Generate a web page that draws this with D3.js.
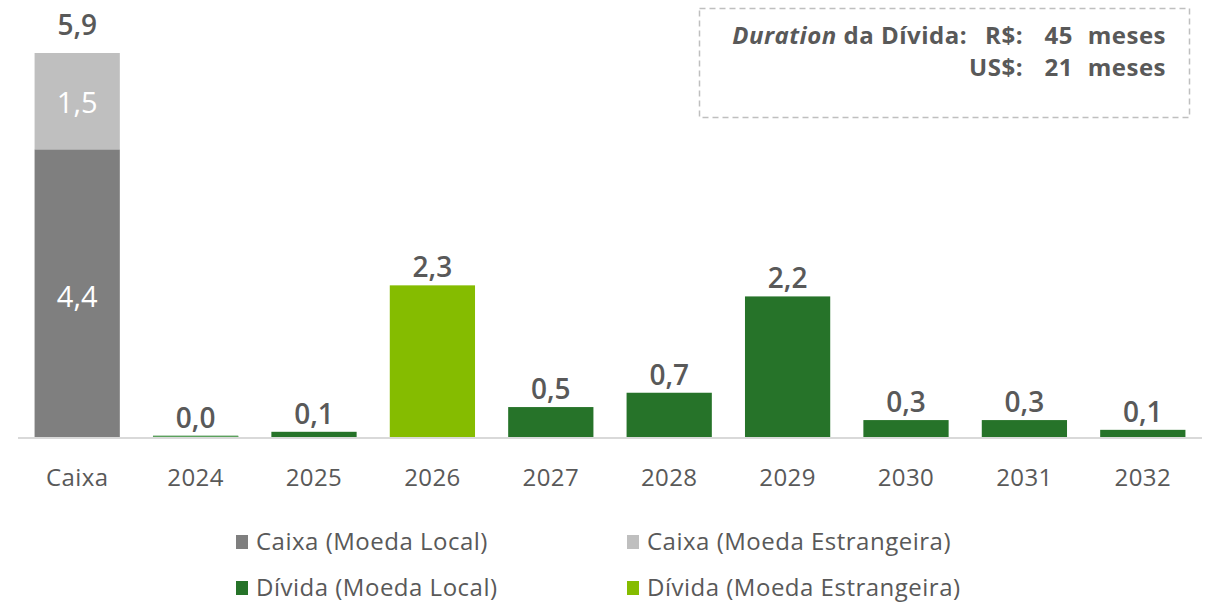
<!DOCTYPE html>
<html>
<head>
<meta charset="utf-8">
<script src="https://cdn.jsdelivr.net/npm/d3@7"></script>
<style>
  body { margin: 0; background: #fff; }
  svg text { font-family: "Open Sans", "Noto Sans", sans-serif; }
</style>
</head>
<body>
<div id="chart"></div>
<script>
  'use strict';

  // categories and series (R$ bi)
  var categories = ['Caixa', '2024', '2025', '2026', '2027', '2028', '2029', '2030', '2031', '2032'];
  var caixaLocal = [4.42, 0, 0, 0, 0, 0, 0, 0, 0, 0];
  var caixaEstrangeira = [1.48, 0, 0, 0, 0, 0, 0, 0, 0, 0];
  var dividaLocal = [0, 0.02, 0.08, 0, 0.46, 0.68, 2.16, 0.26, 0.26, 0.11];
  var dividaEstrangeira = [0, 0, 0, 2.33, 0, 0, 0, 0, 0, 0];

  var seriesNames = ['Caixa (Moeda Local)', 'Caixa (Moeda Estrangeira)', 'Dívida (Moeda Local)', 'Dívida (Moeda Estrangeira)'];
  var seriesColors = ['#7f7f7f', '#bfbfbf', '#267329', '#85bc00'];

  var width = 1206, height = 605;
  var baseY = 437;
  var textColor = '#595959';

  var svg = d3.select('#chart').append('svg')
    .attr('width', width)
    .attr('height', height);

  var x = d3.scaleBand()
    .domain(categories)
    .range([18, 1202])
    .paddingInner(0.28)
    .paddingOuter(0.14);

  var y = d3.scaleLinear()
    .domain([0, 5.9])
    .range([baseY, 53]);

  // build stacked rows
  var rows = categories.map(function(c, i) {
    return { cat: c, s0: caixaLocal[i], s1: caixaEstrangeira[i], s2: dividaLocal[i], s3: dividaEstrangeira[i] };
  });
  var stack = d3.stack().keys(['s0', 's1', 's2', 's3']);
  var layers = stack(rows);

  svg.append('g').selectAll('g')
    .data(layers)
    .enter().append('g')
      .attr('fill', function(d, i) { return seriesColors[i]; })
    .selectAll('rect')
    .data(function(d) { return d; })
    .enter().append('rect')
      .attr('x', function(d) { return x(d.data.cat); })
      .attr('width', x.bandwidth())
      .attr('y', function(d) { return y(d[1]); })
      .attr('height', function(d) { return Math.max(0, y(d[0]) - y(d[1])); });

  // the 2024 sliver
  svg.append('line')
    .attr('x1', x('2024')).attr('x2', x('2024') + x.bandwidth())
    .attr('y1', baseY - 0.5).attr('y2', baseY - 0.5)
    .attr('stroke', '#5aa25c').attr('stroke-width', 1);

  // axis line
  svg.append('line')
    .attr('x1', 18).attr('x2', 1202)
    .attr('y1', baseY + 1).attr('y2', baseY + 1)
    .attr('stroke', '#d9d9d9').attr('stroke-width', 2);

  var fmt = function(v) { return v.toFixed(1).replace('.', ','); };

  // labels inside caixa bar
  svg.append('text')
    .attr('x', x('Caixa') + x.bandwidth() / 2)
    .attr('y', (y(0) + y(caixaLocal[0])) / 2 + 4)
    .attr('dy', '0.35em')
    .attr('text-anchor', 'middle')
    .attr('font-size', '29px')
    .attr('fill', '#fff')
    .text(fmt(caixaLocal[0]));
  svg.append('text')
    .attr('x', x('Caixa') + x.bandwidth() / 2)
    .attr('y', (y(caixaLocal[0]) + y(caixaLocal[0] + caixaEstrangeira[0])) / 2 + 2)
    .attr('dy', '0.35em')
    .attr('text-anchor', 'middle')
    .attr('font-size', '29px')
    .attr('fill', '#fff')
    .text(fmt(caixaEstrangeira[0]));

  // totals on top (the stacked caixa total sits a bit higher)
  svg.append('g').selectAll('text')
    .data(rows)
    .enter().append('text')
      .attr('x', function(d) { return x(d.cat) + x.bandwidth() / 2; })
      .attr('y', function(d) { return y(d.s0 + d.s1 + d.s2 + d.s3) - (d.s1 > 0 ? 18 : 8); })
      .attr('text-anchor', 'middle')
      .attr('font-size', '28px')
      .attr('font-weight', 600)
      .attr('fill', textColor)
      .text(function(d) { return fmt(d.s0 + d.s1 + d.s2 + d.s3); });

  // category labels
  svg.append('g').selectAll('text')
    .data(categories)
    .enter().append('text')
      .attr('x', function(d) { return x(d) + x.bandwidth() / 2; })
      .attr('y', 486)
      .attr('text-anchor', 'middle')
      .attr('font-size', '24px')
      .attr('letter-spacing', '0.4px')
      .attr('fill', textColor)
      .text(function(d) { return d; });

  // legend
  var legendPos = [[236, 542], [627, 542], [236, 588], [627, 588]];
  var legend = svg.append('g').selectAll('g')
    .data(seriesNames)
    .enter().append('g')
      .attr('transform', function(d, i) { return 'translate(' + legendPos[i][0] + ',' + legendPos[i][1] + ')'; });
  legend.append('rect')
    .attr('x', 0).attr('y', -7)
    .attr('width', 12).attr('height', 14)
    .attr('fill', function(d, i) { return seriesColors[i]; });
  legend.append('text')
    .attr('x', 20)
    .attr('dy', '0.35em')
    .attr('font-size', '24px')
    .attr('letter-spacing', '0.5px')
    .attr('fill', textColor)
    .text(function(d) { return d; });

  // duration box
  svg.append('rect')
    .attr('x', 699.5).attr('y', 8.5)
    .attr('width', 490).attr('height', 109)
    .attr('fill', 'none')
    .attr('stroke', '#bfbfbf')
    .attr('stroke-width', 1.5)
    .attr('stroke-dasharray', '6,4');

  var box = svg.append('g')
    .attr('font-size', '24px')
    .attr('font-weight', 'bold')
    .attr('letter-spacing', '0.5px')
    .attr('fill', textColor);

  var t1 = box.append('text').attr('x', 967).attr('y', 44).attr('text-anchor', 'end');
  t1.append('tspan').attr('font-style', 'italic').text('Duration');
  t1.append('tspan').text(' da Dívida:');

  var durRows = [['R$:', '45', 'meses', 44], ['US$:', '21', 'meses', 76]];
  durRows.forEach(function(r) {
    box.append('text').attr('x', 1023).attr('y', r[3]).attr('text-anchor', 'end').text(r[0]);
    box.append('text').attr('x', 1073).attr('y', r[3]).attr('text-anchor', 'end').text(r[1]);
    box.append('text').attr('x', 1166).attr('y', r[3]).attr('text-anchor', 'end').text(r[2]);
  });
</script>
</body>
</html>
